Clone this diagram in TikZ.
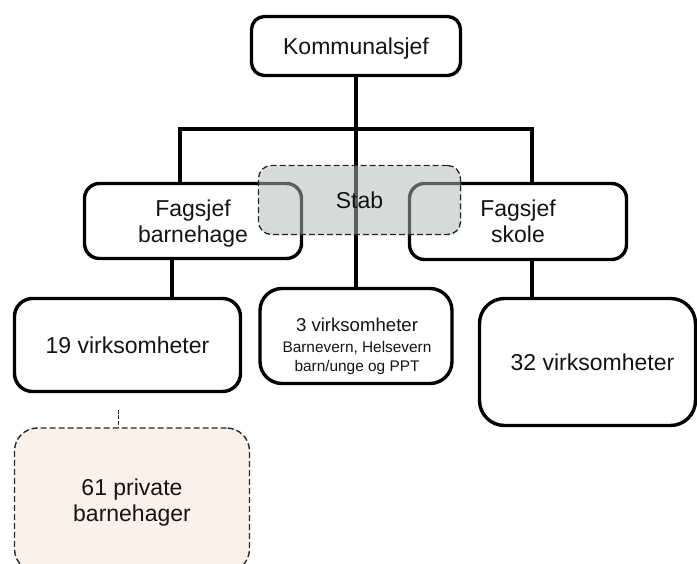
\documentclass[tikz,border=0pt]{standalone}
\usepackage{fontspec}
\setmainfont{Liberation Sans}
\usetikzlibrary{shadows}
\definecolor{stabfill}{RGB}{183,194,194}
\definecolor{privfill}{RGB}{252,241,232}
\definecolor{txt}{RGB}{20,20,20}
\tikzset{
  box/.style={draw=black, line width=3.4pt, fill=white, align=center, inner sep=0pt,
    text=txt, text depth=0pt, font=\fontsize{23}{26}\selectfont},
  link/.style={draw=black, line width=3.1pt},
  dbox/.style={draw=black!85, line width=1.4pt, dash pattern=on 6pt off 3pt, align=center,
    inner sep=0pt, text=txt, text depth=0pt, font=\fontsize{23}{26}\selectfont},
  dlink/.style={draw=black!85, line width=1pt, dash pattern=on 4pt off 1.5pt},
  small/.style={inner sep=0pt, text=txt, anchor=base}
}
\begin{document}
\begin{tikzpicture}[x=1pt,y=-1pt]
\useasboundingbox (0,0) rectangle (697,564);
\clip (0,0) rectangle (697,564);
% boxes
\node[box, rounded corners=13pt, minimum width=209pt, minimum height=59pt] (kom) at (356,46) {Kommunalsjef};
\node[box, rounded corners=15pt, minimum width=217pt, minimum height=75pt] (fb) at (193,221) {Fagsjef\\barnehage};
\node[box, rounded corners=15pt, minimum width=217pt, minimum height=76pt] (fs) at (518,221.5) {Fagsjef\\skole};
\node[box, rounded corners=18pt, minimum width=226pt, minimum height=93pt] (v19) at (127.5,345) {19 virksomheter};
\node[box, rounded corners=22pt, minimum width=192pt, minimum height=95pt] (v3) at (356,336) {};
\node[small, font=\fontsize{18.6}{22}\selectfont] (v3a) at (357,331.7) {3 virksomheter};
\node[small, font=\fontsize{15.4}{18}\selectfont] (v3b) at (357,353) {Barnevern, Helsevern};
\node[small, font=\fontsize{15.4}{18}\selectfont] (v3c) at (357,371.7) {barn/unge og PPT};
\node[box, rounded corners=25pt, minimum width=216pt, minimum height=127pt] (v32) at (587.5,362) {\hspace*{10pt}32 virksomheter};
\node[dbox, fill=privfill, rounded corners=23pt, minimum width=235pt, minimum height=144pt] (p61) at (132,500) {61 private\\barnehager};
% connectors
\coordinate (hl) at (180,129);
\coordinate (hr) at (532,129);
\coordinate (c19) at (172,0);
\coordinate (cp) at (118,410);
\draw[link] (kom.south) -- (kom.south |- v3.north);
\draw[link] (fb.north -| hl) -- (hl) -- (hr) -- (fs.north -| hr);
\draw[link] (fb.south -| c19) -- (v19.north -| c19);
\draw[link] (fs.south -| hr) -- (v32.north -| hr);
\draw[dlink] (cp) -- (p61.north -| cp);
% stab overlay
\node[dbox, line width=1.3pt, rounded corners=13pt, minimum width=202pt, minimum height=69pt,
  fill=stabfill, fill opacity=0.45, text opacity=1,
  drop shadow={shadow xshift=1.5pt, shadow yshift=-1.5pt, opacity=0.12}] (stab) at (359.5,200) {Stab};
\end{tikzpicture}
\end{document}
